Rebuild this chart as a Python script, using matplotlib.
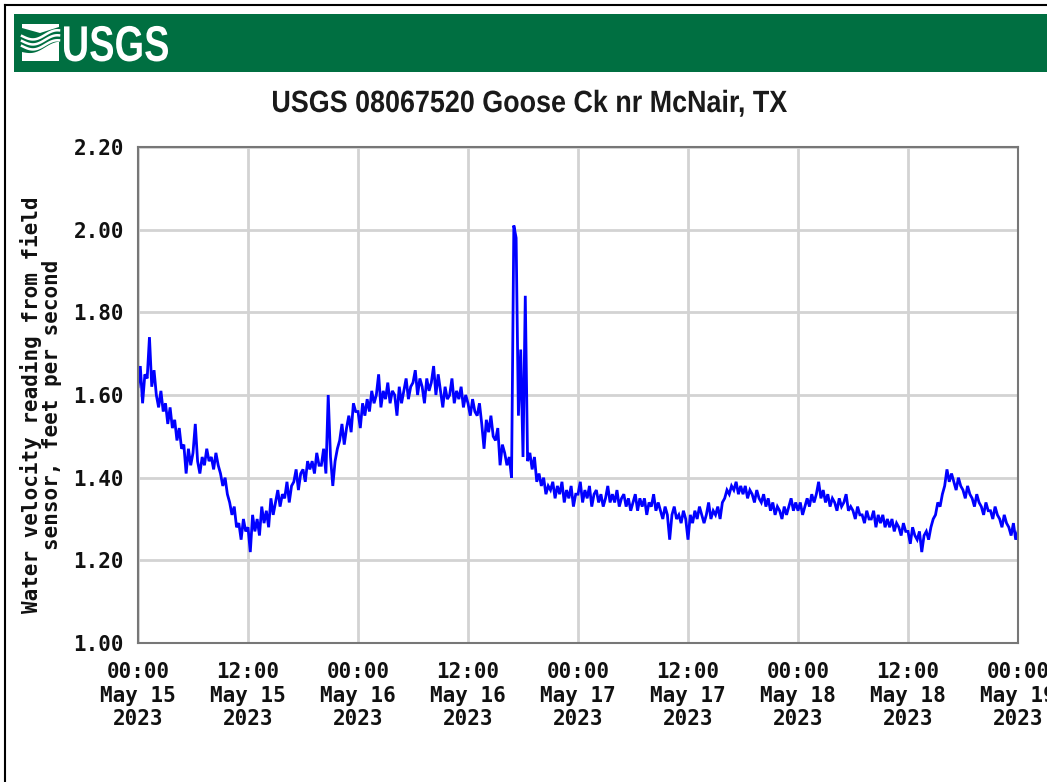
import numpy as np
import pandas as pd
import matplotlib
matplotlib.use("Agg")
import matplotlib.pyplot as plt
import matplotlib.dates as mdates
from matplotlib.patches import Rectangle, PathPatch, Polygon
from matplotlib.lines import Line2D
from matplotlib.textpath import TextPath
from matplotlib.font_manager import FontProperties
from matplotlib.transforms import Affine2D, IdentityTransform

# 15-minute velocity readings, one list per day (ft/s)
may15 = [
    1.62, 1.67, 1.58, 1.65, 1.64, 1.74, 1.62, 1.66, 1.60, 1.57, 1.61, 1.56, 1.58, 1.53, 1.57, 1.52,
    1.54, 1.49, 1.52, 1.47, 1.48, 1.41, 1.47, 1.43, 1.46, 1.53, 1.44, 1.41, 1.45, 1.43, 1.47, 1.44,
    1.45, 1.42, 1.46, 1.43, 1.41, 1.38, 1.40, 1.36, 1.34, 1.31, 1.33, 1.28, 1.29, 1.25, 1.30, 1.27,
    1.28, 1.22, 1.31, 1.27, 1.30, 1.26, 1.33, 1.29, 1.32, 1.28, 1.35, 1.31, 1.34, 1.37, 1.33, 1.36,
    1.35, 1.39, 1.34, 1.38, 1.39, 1.42, 1.37, 1.41, 1.42, 1.39, 1.44, 1.42, 1.44, 1.41, 1.46, 1.43,
    1.43, 1.47, 1.41, 1.60, 1.45, 1.38, 1.44, 1.47, 1.49, 1.53, 1.48, 1.52, 1.55, 1.51, 1.58, 1.56,
]
may16 = [
    1.56, 1.52, 1.58, 1.55, 1.59, 1.56, 1.61, 1.58, 1.60, 1.65, 1.57, 1.61, 1.59, 1.63, 1.58, 1.61,
    1.60, 1.55, 1.62, 1.58, 1.61, 1.64, 1.59, 1.62, 1.63, 1.66, 1.60, 1.64, 1.62, 1.58, 1.64, 1.61,
    1.63, 1.67, 1.60, 1.65, 1.61, 1.57, 1.62, 1.59, 1.60, 1.64, 1.58, 1.61, 1.59, 1.62, 1.57, 1.60,
    1.58, 1.55, 1.59, 1.56, 1.55, 1.58, 1.53, 1.47, 1.54, 1.51, 1.55, 1.50, 1.49, 1.52, 1.43, 1.48,
    1.46, 1.43, 1.45, 1.40, 2.01, 1.98, 1.55, 1.71, 1.45, 1.84, 1.44, 1.46, 1.42, 1.45, 1.39, 1.41,
    1.38, 1.40, 1.36, 1.38, 1.37, 1.39, 1.35, 1.38, 1.36, 1.39, 1.34, 1.37, 1.35, 1.38, 1.33, 1.36,
]
may17 = [
    1.36, 1.39, 1.34, 1.37, 1.35, 1.38, 1.33, 1.36, 1.37, 1.34, 1.36, 1.33, 1.35, 1.38, 1.34, 1.36,
    1.34, 1.37, 1.33, 1.35, 1.36, 1.33, 1.35, 1.32, 1.34, 1.36, 1.32, 1.35, 1.33, 1.35, 1.31, 1.34,
    1.33, 1.36, 1.32, 1.34, 1.32, 1.30, 1.33, 1.31, 1.25, 1.31, 1.33, 1.30, 1.31, 1.29, 1.32, 1.30,
    1.25, 1.31, 1.29, 1.32, 1.30, 1.33, 1.31, 1.29, 1.31, 1.34, 1.30, 1.32, 1.31, 1.33, 1.30, 1.34,
    1.35, 1.37, 1.36, 1.38, 1.37, 1.39, 1.36, 1.38, 1.36, 1.38, 1.35, 1.37, 1.36, 1.34, 1.37, 1.35,
    1.34, 1.36, 1.33, 1.35, 1.32, 1.34, 1.31, 1.33, 1.32, 1.30, 1.33, 1.31, 1.33, 1.35, 1.32, 1.34,
]
may18 = [
    1.32, 1.34, 1.31, 1.33, 1.35, 1.33, 1.36, 1.34, 1.36, 1.39, 1.35, 1.37, 1.34, 1.36, 1.33, 1.35,
    1.34, 1.32, 1.35, 1.33, 1.34, 1.36, 1.32, 1.33, 1.32, 1.30, 1.33, 1.31, 1.31, 1.29, 1.32, 1.30,
    1.30, 1.32, 1.28, 1.31, 1.29, 1.31, 1.28, 1.30, 1.28, 1.30, 1.27, 1.29, 1.28, 1.26, 1.29, 1.27,
    1.27, 1.24, 1.28, 1.26, 1.25, 1.27, 1.22, 1.26, 1.27, 1.25, 1.28, 1.30, 1.31, 1.34, 1.33, 1.36,
    1.38, 1.42, 1.39, 1.41, 1.39, 1.37, 1.40, 1.38, 1.37, 1.35, 1.38, 1.36, 1.35, 1.33, 1.36, 1.34,
    1.33, 1.31, 1.34, 1.32, 1.32, 1.30, 1.33, 1.31, 1.30, 1.28, 1.31, 1.29, 1.28, 1.26, 1.29, 1.25,
]
may19 = [1.27]

y_ticks = [1.00, 1.20, 1.40, 1.60, 1.80, 2.00, 2.20]
title = "USGS 08067520 Goose Ck nr McNair, TX"
ylabel = "Water velocity reading from field\nsensor, feet per second"

values = may15 + may16 + may17 + may18 + may19
times = pd.date_range("2023-05-15 00:00", periods=len(values), freq="15min")

W, H = 1047, 782
fig = plt.figure(figsize=(W / 100, H / 100), dpi=100)
fig.patch.set_facecolor("white")
PIX = IdentityTransform()


def fitted_text(s, x_left, baseline, width, cap_px, color, weight="bold"):
    """Draw text as a path, squeezed horizontally to the given width."""
    fp = FontProperties(family="Liberation Sans", weight=weight)
    size = cap_px / 0.716
    tp = TextPath((0, 0), s, size=size, prop=fp)
    bb = tp.get_extents()
    sx = width / bb.width
    tr = Affine2D().translate(-bb.x0, 0).scale(sx, 1).translate(x_left, H - baseline)
    fig.add_artist(PathPatch(tr.transform_path(tp), facecolor=color, edgecolor="none",
                             transform=PIX))


# outer border
fig.add_artist(Line2D([5, 5], [0, H - 5], color="black", lw=1.5, transform=PIX))
fig.add_artist(Line2D([5, W], [H - 5, H - 5], color="black", lw=1.5, transform=PIX))

# header band
green = "#006F41"
fig.add_artist(Rectangle((14, H - 72), W - 14, 58, transform=PIX,
                         facecolor=green, edgecolor="none"))

# logo emblem: top bar, wavy stripes, filled lower wedge
fig.add_artist(Polygon([[22, H - 24], [59, H - 24], [59, H - 27], [40, H - 33], [22, H - 28]],
                       closed=True, facecolor="white", edgecolor="none", transform=PIX))
xs = np.linspace(22, 59, 40)
for k in range(3):
    ys = 36 + k * 5 + 4 * np.sin((xs - 22) / 37 * np.pi * 1.6) - (xs - 22) * 0.05
    fig.add_artist(Line2D(xs, H - ys, color="white", lw=1.8, transform=PIX))
base = 52 + 3 * np.sin((xs - 22) / 37 * np.pi * 1.6) - (xs - 22) * 0.2
fill = np.vstack([np.column_stack([xs, H - base]), [[59, H - 61], [22, H - 61]]])
fig.add_artist(Polygon(fill, closed=True, facecolor="white", edgecolor="none", transform=PIX))

# logo lettering and chart title, condensed
fitted_text("USGS", 64, 61, 104, 36, "white")
fitted_text(title, 273, 112, 514, 22, "#1a1a1a")

# axes
x0, x1, ytop, ybot = 138, 1018, 147, 643
ax = fig.add_axes([x0 / W, 1 - ybot / H, (x1 - x0) / W, (ybot - ytop) / H])
ax.plot(times, values, color="#0000FF", lw=2.0, solid_joinstyle="miter")
ax.set_ylim(1.0, 2.2)
ax.set_xlim(pd.Timestamp("2023-05-15 00:00"), pd.Timestamp("2023-05-19 00:00"))
ax.set_yticks(y_ticks)
ax.set_yticklabels([f"{v:.2f}" for v in y_ticks])
ax.xaxis.set_major_locator(mdates.HourLocator(byhour=[0, 12]))
ax.xaxis.set_major_formatter(mdates.DateFormatter("%H:%M\n%b %d\n%Y"))
ax.grid(True, color="#D3D3D3", lw=2)
ax.set_axisbelow(True)
for s in ax.spines.values():
    s.set_color("#777777")
    s.set_linewidth(1.5)
ax.tick_params(length=0, labelsize=15, labelcolor="#111111")
ax.tick_params(axis="y", pad=10)
ax.tick_params(axis="x", pad=14)
for lab in ax.get_xticklabels() + ax.get_yticklabels():
    lab.set_family("DejaVu Sans Mono")
    lab.set_weight("bold")
for lab in ax.get_xticklabels():
    lab.set_linespacing(1.22)

fig.text(41 / W, 1 - 405 / H, ylabel, rotation=90, ha="center", va="center",
         fontsize=15, family="DejaVu Sans Mono", weight="bold", color="#111111",
         linespacing=1.05)

fig.savefig("out.png", dpi=100)
